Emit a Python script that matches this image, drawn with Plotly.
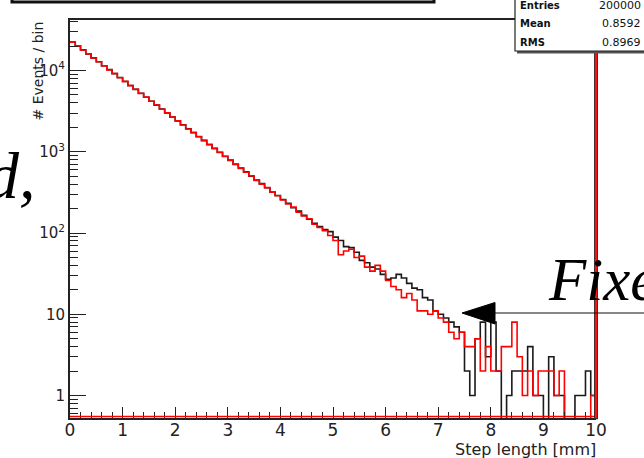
import plotly.graph_objects as go

# ---------------- data ----------------
BIN_LO, BIN_HI, N_BINS = 0.0, 10.0, 100

black_counts = [
    22400, 20000, 17950, 16000, 14300, 12800, 11450, 10250, 9150, 8200,
    7330, 6550, 5860, 5250, 4690, 4190, 3750, 3360, 3000, 2680,
    2400, 2150, 1920, 1720, 1530, 1380, 1230, 1100, 985, 880,
    790, 700, 630, 565, 500, 450, 405, 360, 320, 290,
    258, 232, 205, 186, 165, 148, 132, 120, 110, 104,
    89, 81, 68, 66, 58, 46, 43, 38, 36, 31,
    27, 28, 31, 28, 24, 21, 20, 16, 15, 11,
    10, 9, 8, 7, 6, 2, 1, 5, 8, 3,
    8, 2, 0, 1, 2, 2, 2, 4, 1, 1,
    0, 3, 1, 1, 0, 0, 1, 1, 2, 1,
]
red_counts = [
    22300, 20100, 17900, 16050, 14250, 12850, 11400, 10200, 9200, 8150,
    7350, 6520, 5880, 5220, 4700, 4180, 3760, 3340, 3010, 2670,
    2410, 2140, 1910, 1725, 1540, 1370, 1225, 1095, 980, 875,
    780, 705, 625, 560, 505, 445, 400, 362, 318, 288,
    255, 228, 208, 180, 162, 150, 128, 117, 107, 93,
    81, 54, 60, 63, 50, 52, 38, 34, 40, 34,
    26, 22, 20, 16, 18, 15, 11, 11, 10, 11,
    9, 8, 6, 5, 6, 4, 4, 5, 2, 4,
    2, 2, 4, 4, 8, 3, 1, 2, 1, 2,
    2, 2, 1, 2, 0, 0, 0, 0, 0, 1,
]

stat_labels = ["Entries", "Mean", "RMS"]
stat_values = ["200000", "0.8592", "0.8969"]

x_tickvals = [0, 1, 2, 3, 4, 5, 6, 7, 8, 9, 10]
y_tickvals = [1, 10, 100, 1000, 10000]
y_ticktext = ["1", "10", "10<sup>2</sup>", "10<sup>3</sup>", "10<sup>4</sup>"]

x_title = "Step length [mm]"
y_title = "# Events / bin"
left_word = "d,"
right_word = "Fixed"

# ---------------- geometry helpers ----------------
W, H = 644, 458
L, R, T, B = 70, 48, 20, 40
PW, PH = W - L - R, H - T - B


def px(xp):
    return (xp - L) / PW


def py(yp):
    return (H - B - yp) / PH


bw = (BIN_HI - BIN_LO) / N_BINS
edges = [BIN_LO + i * bw for i in range(N_BINS + 1)]
FLOOR = 0.3  # zero bins drawn below the visible range (at the frame bottom)


def step_xy(counts):
    xs = edges[:-1] + [edges[-1], edges[-1]]
    vals = [c if c > 0 else FLOOR for c in counts]
    ys = vals + [vals[-1], FLOOR]
    return xs, ys


fig = go.Figure()
for counts, col in [(black_counts, "#1a1a1a"), (red_counts, "#ff0000")]:
    xs, ys = step_xy(counts)
    fig.add_trace(go.Scatter(x=xs, y=ys, mode="lines", line=dict(color=col, width=1.6, shape="hv"),
                             showlegend=False, hoverinfo="skip"))

minor_y = []
for d in [0.1, 1, 10, 100, 1000, 10000]:
    for m in range(2, 10):
        v = m * d
        if 0.52 < v < 42000:
            minor_y.append(v)
minor_x = [i * 0.2 for i in range(51) if i % 5 != 0]

fig.update_layout(
    width=W, height=H, margin=dict(l=L, r=R, t=T, b=B),
    paper_bgcolor="white", plot_bgcolor="white",
    xaxis=dict(range=[BIN_LO, BIN_HI], tickmode="array", tickvals=x_tickvals,
               ticks="inside", ticklen=11, tickwidth=1.3, tickcolor="#222",
               showline=True, linecolor="#222", linewidth=2, mirror=True,
               showgrid=False, zeroline=False, ticklabelstandoff=-4,
               tickfont=dict(family="DejaVu Sans", size=17, color="#222"),
               minor=dict(tickmode="array", tickvals=minor_x, ticks="inside", ticklen=6,
                          tickwidth=1.2, tickcolor="#222", showgrid=False)),
    yaxis=dict(type="log", range=[-0.277, 4.622], tickmode="array", tickvals=y_tickvals,
               ticktext=y_ticktext, ticks="inside", ticklen=16, tickwidth=1.3, tickcolor="#222",
               showline=True, linecolor="#222", linewidth=2, mirror=False,
               showgrid=False, zeroline=False,
               tickfont=dict(family="DejaVu Sans", size=15, color="#222"),
               minor=dict(tickmode="array", tickvals=minor_y, ticks="inside", ticklen=8,
                          tickwidth=1.2, tickcolor="#222", showgrid=False)),
)

# the plot's right edge (paper x = 1) is the histogram's upper limit BIN_HI
x_hi_paper = (BIN_HI - BIN_LO) / (BIN_HI - BIN_LO)

shapes = []
# red baseline of the filled histogram outline
shapes.append(dict(type="line", xref="x", yref="paper", x0=BIN_LO, x1=BIN_HI, y0=0.004, y1=0.004,
                   line=dict(color="#ff0000", width=1.5)))
# last-edge spike (overflow at the 10 mm limit) running beyond the frame; doubles as right frame edge
shapes.append(dict(type="line", xref="paper", yref="paper", x0=x_hi_paper, x1=x_hi_paper, y0=-0.003, y1=py(-5),
                   line=dict(color="#333", width=4)))
shapes.append(dict(type="line", xref="paper", yref="paper", x0=x_hi_paper, x1=x_hi_paper, y0=0.0, y1=py(-5),
                   line=dict(color="#ff1010", width=2.2)))
# stats box shadow + box
shapes.append(dict(type="rect", xref="paper", yref="paper", x0=px(517), x1=px(660), y0=py(53.5), y1=py(-10),
                   line=dict(width=0), fillcolor="#555"))
shapes.append(dict(type="rect", xref="paper", yref="paper", x0=px(515), x1=px(660), y0=py(51), y1=py(-10),
                   line=dict(color="#222", width=1.2), fillcolor="white"))
# title box bottom edge (upper left)
shapes.append(dict(type="rect", xref="paper", yref="paper", x0=px(12), x1=px(434), y0=py(2), y1=py(-30),
                   line=dict(color="#111", width=3), fillcolor="rgba(0,0,0,0)"))
# arrow
shapes.append(dict(type="line", xref="paper", yref="paper", x0=px(494), x1=px(660), y0=py(313), y1=py(313),
                   line=dict(color="#111", width=1.2)))
shapes.append(dict(type="path", xref="paper", yref="paper",
                   path=f"M {px(462)},{py(313)} L {px(495)},{py(302.5)} L {px(495)},{py(324)} Z",
                   line=dict(color="#000", width=1), fillcolor="#000"))
fig.update_layout(shapes=shapes)

ann = []
row_y = [6, 23.5, 42]
for lab, val, yy in zip(stat_labels, stat_values, row_y):
    ann.append(dict(xref="paper", yref="paper", x=px(518), y=py(yy), xanchor="left", yanchor="middle",
                    text=f"<b>{lab}</b>", showarrow=False,
                    font=dict(family="DejaVu Sans", size=10, color="#111")))
    ann.append(dict(xref="paper", yref="paper", x=px(643), y=py(yy), xanchor="right", yanchor="middle",
                    text=val, showarrow=False,
                    font=dict(family="DejaVu Sans", size=11, color="#111")))
ann.append(dict(xref="paper", yref="paper", x=px(598), y=py(450), xanchor="right", yanchor="middle",
                text=x_title, showarrow=False, font=dict(family="DejaVu Sans", size=16, color="#222")))
ann.append(dict(xref="paper", yref="paper", x=px(37), y=py(20), xanchor="center", yanchor="top",
                text=y_title, textangle=-90, showarrow=False,
                font=dict(family="DejaVu Sans", size=14, color="#222")))
ann.append(dict(xref="paper", yref="paper", x=px(38), y=py(175), xanchor="right", yanchor="middle",
                text=f"<i>{left_word}</i>", showarrow=False,
                font=dict(family="Liberation Serif", size=66, color="#000")))
ann.append(dict(xref="paper", yref="paper", x=px(546), y=py(279), xanchor="left", yanchor="middle",
                text=f"<i>{right_word}</i>", showarrow=False,
                font=dict(family="Liberation Serif", size=61, color="#000")))
fig.update_layout(annotations=ann)

fig.write_html("out.html")
